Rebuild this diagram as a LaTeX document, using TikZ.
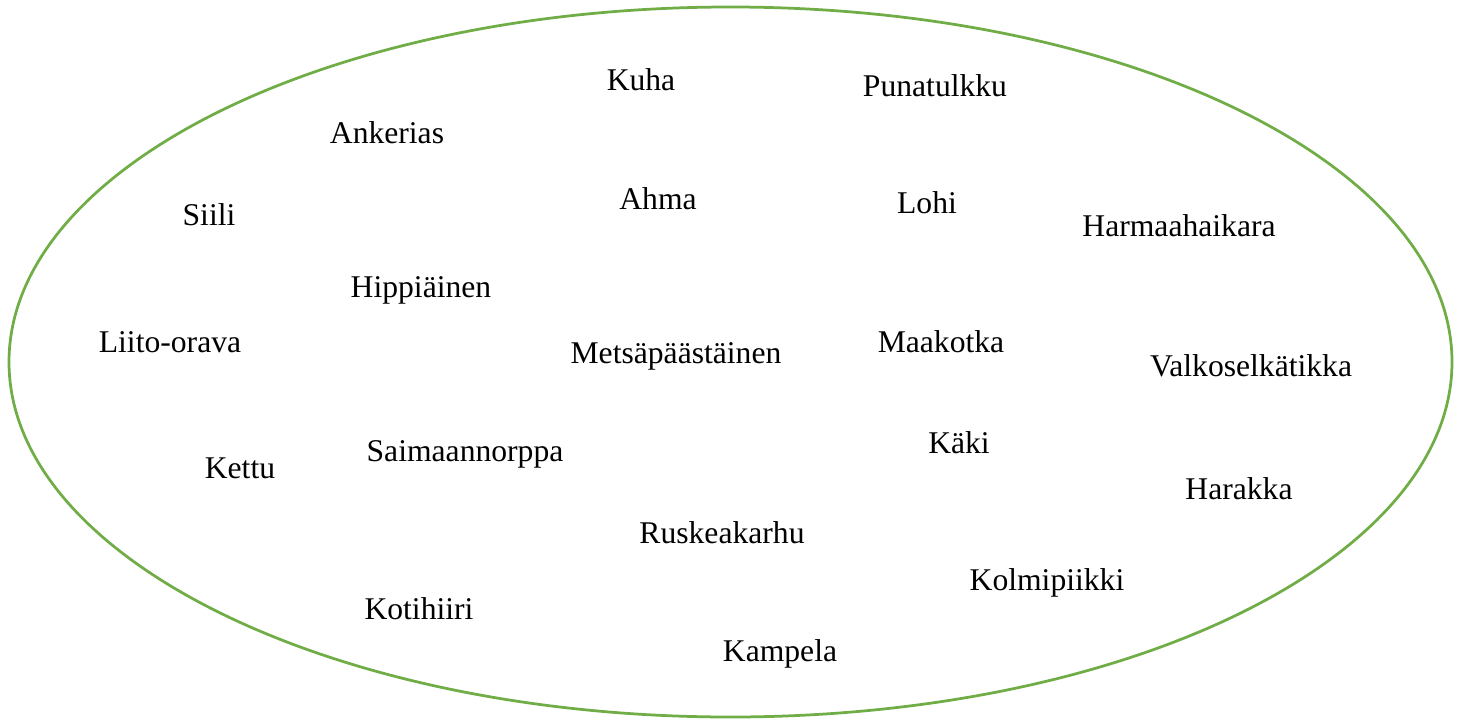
\documentclass[tikz,border=0pt]{standalone}
\usepackage{fontspec}
\setmainfont{Liberation Serif}
\usetikzlibrary{calc}

\definecolor{setgreen}{HTML}{70AD47}

\begin{document}
\begin{tikzpicture}[
    x=0.02cm, y=-0.02cm,
    % Style of the set boundary and of its members
    setline/.style={draw=setgreen, line width=0.055cm},
    member/.style={font=\fontsize{18}{20}\selectfont, text=black, inner sep=0pt}
]

    % Canvas
    \useasboundingbox (0,0) rectangle (1463,720);

    % Set boundary
    \coordinate (C) at (730.5,362);
    \draw[setline] (C) ellipse [x radius=721.5, y radius=355];

    % Members of the set

    %% Upper row
    \node[member] (kuha) at (641,80) {Kuha};
    \node[member] (punatulkku) at (935,86) {Punatulkku};
    \node[member] (ankerias) at (387,133) {Ankerias};
    \node[member] (siili) at (209,215) {Siili};
    \node[member] (ahma) at (658,199) {Ahma};
    \node[member] (lohi) at (927,203) {Lohi};
    \node[member] (harmaahaikara) at (1179,226) {Harmaahaikara};

    %% Middle row
    \node[member] (hippiainen) at (421,290) {Hippiäinen};
    \node[member] (liito) at (170,342) {Liito-orava};
    \node[member] (metsapaastainen) at (676,356) {Metsäpäästäinen};
    \node[member] (maakotka) at (941,342) {Maakotka};
    \node[member] (valkoselkatikka) at (1251,366) {Valkoselkätikka};

    %% Lower row
    \node[member] (kaki) at (959,443) {Käki};
    \node[member] (kettu) at (240,468) {Kettu};
    \node[member] (saimaannorppa) at (465,454) {Saimaannorppa};
    \node[member] (harakka) at (1239,489) {Harakka};
    \node[member] (ruskeakarhu) at (722,533) {Ruskeakarhu};
    \node[member] (kolmipiikki) at (1047,583) {Kolmipiikki};
    \node[member] (kotihiiri) at (419,609) {Kotihiiri};
    \node[member] (kampela) at (780,654) {Kampela};

\end{tikzpicture}
\end{document}
